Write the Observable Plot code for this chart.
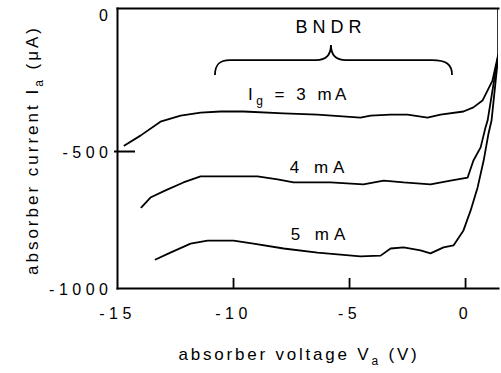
<!DOCTYPE html>
<html><head><meta charset="utf-8">
<script src="https://cdn.jsdelivr.net/npm/d3@7"></script>
<script src="https://cdn.jsdelivr.net/npm/@observablehq/plot@0.6"></script>
<style>
body{margin:0;background:#fff;}
#chart svg text{letter-spacing:4.5px;}
</style></head><body><div id="chart"></div>
<script>
// tick values
const xTicks = [-15, -10, -5, 0];
const yTicks = [0, -500, -1000];
const xInnerTicks = [-10, -5, 0];
const yInnerTicks = [-500];

// Ig = 3 mA
const v3 = [-14.70, -14.01, -13.15, -12.28, -11.42, -10.56, -9.57, -7.84, -6.38, -4.53, -4.09, -3.23, -2.50, -1.64, -1.08, -0.09, 0.34, 0.73, 1.16, 1.42, 1.42];
const i3 = [-478, -442, -391, -369, -358, -354, -354, -361, -365, -376, -369, -365, -365, -376, -365, -354, -339, -314, -241, -142, 22];
// Ig = 4 mA
const v4 = [-13.97, -13.58, -12.93, -12.16, -11.42, -10.43, -8.97, -8.10, -7.41, -5.82, -4.40, -3.53, -2.67, -1.51, -0.65, 0.09, 0.34, 0.65, 0.86, 0.95, 1.42, 1.42];
const i4 = [-704, -668, -642, -613, -591, -591, -591, -602, -613, -613, -620, -606, -613, -620, -606, -595, -533, -485, -412, -387, -142, 22];
// Ig = 5 mA
const v5 = [-13.36, -12.72, -11.85, -11.12, -10.00, -9.14, -7.84, -6.38, -4.53, -3.66, -3.23, -2.67, -1.94, -1.51, -0.95, -0.52, -0.09, 0.22, 0.52, 0.78, 0.99, 1.12, 1.42, 1.42];
const i5 = [-894, -869, -836, -825, -825, -836, -854, -869, -883, -880, -854, -850, -861, -872, -850, -843, -788, -715, -631, -533, -434, -387, -142, 22];

const series = [["3 mA", v3, i3], ["4 mA", v4, i4], ["5 mA", v5, i5]];
const rows = series.flatMap(([s, vs, is]) => vs.map((v, k) => ({s, v, i: is[k]})));

const FONT = "'Liberation Sans', Arial, Helvetica, sans-serif";
const W = 501, H = 373, ML = 117, MR = 3, MT = 8, MB = 85;
const plotW = W - ML - MR, plotH = H - MT - MB;

const plot = Plot.plot({
  width: W, height: H,
  marginLeft: ML, marginRight: MR, marginTop: MT, marginBottom: MB,
  style: {fontFamily: FONT, fontSize: "16px", color: "#000", background: "#fff", overflow: "visible"},
  x: {domain: [-15, 1.42]},
  y: {domain: [-1000, 22]},
  marks: [
    Plot.axisX({ticks: xTicks, tickSize: 0, tickPadding: 19, label: null, tickFormat: d => String(d)}),
    Plot.axisY({ticks: yTicks, tickSize: 0, tickPadding: 5, label: null, tickFormat: d => String(d), dy: 1}),
    Plot.tickX(xInnerTicks, {x: d => d, insetTop: plotH - 10, stroke: "#000", strokeWidth: 1.8}),
    Plot.tickY(yInnerTicks, {y: d => d, insetRight: plotW - 18, insetLeft: -3, stroke: "#000", strokeWidth: 2}),
    Plot.frame({anchor: "left", strokeWidth: 2}),
    Plot.frame({anchor: "bottom", strokeWidth: 2}),
    Plot.frame({anchor: "top", strokeWidth: 2}),
    Plot.line(rows, {x: "v", y: "i", z: "s", stroke: "#000", strokeWidth: 1.8, curve: "linear", clip: true})
  ]
});
document.getElementById("chart").append(plot);

const svg = d3.select(plot);
const sx = plot.scale("x"), sy = plot.scale("y");
const X = v => sx.apply(v), Y = v => sy.apply(v);

function addText(x, y, parts, opts = {}) {
  const t = svg.append("text")
    .attr("x", x).attr("y", y)
    .attr("text-anchor", opts.anchor || "middle")
    .attr("font-family", FONT)
    .attr("font-size", opts.size || 17)
    .style("letter-spacing", (opts.ls ?? 3) + "px")
    .attr("fill", "#000");
  if (opts.transform) t.attr("transform", opts.transform).attr("x", 0).attr("y", 0);
  for (const p of parts) {
    const ts = t.append("tspan").text(p.t);
    if (p.sub) ts.attr("font-size", 12).attr("dy", 5);
    if (p.up) ts.attr("dy", -5);
  }
  return t;
}

// axis titles
addText(299, 360, [{t: "absorber voltage V"}, {t: "a", sub: true}, {t: " (V)", up: true}], {ls: 2.8});
addText(0, 0, [{t: "absorber current I"}, {t: "a", sub: true}, {t: " (μA)", up: true}], {ls: 3, transform: "translate(38,150) rotate(-90)"});

// curve labels
addText(X(-7.16), Y(-314), [{t: "I"}, {t: "g", sub: true}, {t: " = 3 mA", up: true}], {ls: 3.5});
addText(X(-6.27), Y(-580), [{t: "4 mA"}], {ls: 5});
addText(X(-6.23), Y(-825), [{t: "5 mA"}], {ls: 5});
addText(X(-5.78), Y(-69), [{t: "BNDR"}], {ls: 5, size: 18});

// brace over BNDR region
const xl = X(-10.78), xr = X(-0.56), xc = X(-5.78);
const yh = Y(-168), ye = Y(-223), yt = Y(-113);
const p = d3.path();
p.moveTo(xl, ye);
p.bezierCurveTo(xl, yh + 4, xl + 5, yh, xl + 15, yh);
p.lineTo(xc - 15, yh);
p.bezierCurveTo(xc - 5, yh, xc, yh - 5, xc, yt);
p.bezierCurveTo(xc, yh - 5, xc + 5, yh, xc + 15, yh);
p.lineTo(xr - 20, yh);
p.bezierCurveTo(xr - 6, yh, xr, yh + 4, xr, ye);
svg.append("path").attr("d", p.toString()).attr("fill", "none").attr("stroke", "#000").attr("stroke-width", 1.8);
</script>
</body></html>
